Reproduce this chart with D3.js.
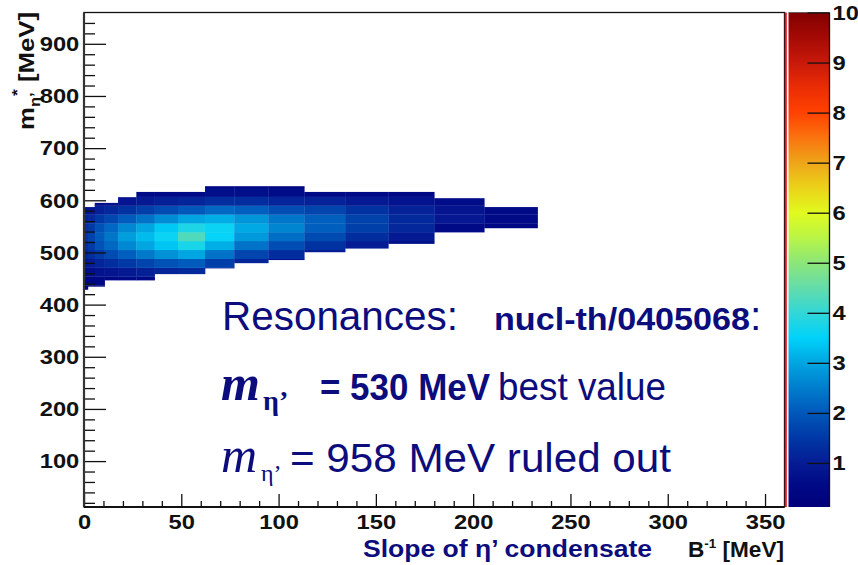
<!DOCTYPE html>
<html>
<head>
<meta charset="utf-8">
<script src="https://cdn.jsdelivr.net/npm/d3@7/dist/d3.min.js"></script>
<style>
  html, body { margin: 0; padding: 0; background: #ffffff; }
  svg { display: block; }
  .root-txt { font-family: "Liberation Sans", Arial, Helvetica, sans-serif; font-weight: bold; }
  .slide-txt { font-family: "Liberation Sans", Arial, Helvetica, sans-serif; fill: #0c0c7c; }
  .serif { font-family: "Liberation Serif", "Times New Roman", serif; }
</style>
</head>
<body>
<svg id="chart" width="858" height="565"></svg>
<script>
// ---- histogram binning ----------------------------------------------------
// slope bins along B^-1 (MeV), variable width
const xEdges = [0, 2, 5.5, 10.6, 17.5, 26.9, 36.3, 48.3, 62.2, 77.2, 94.7, 113.2, 134.2, 156.4, 180, 205.7, 233.1];
// mass rows along m_eta'* (MeV)
const yEdges = [420, 437, 454, 471, 488, 505, 522, 539, 556, 573, 590, 607, 624, 641];
// lowest / highest mass filled in each slope bin
const colLow  = [429, 435, 435, 447, 447, 447, 459, 459, 470, 480, 486, 501, 508, 517, 538, 547];
const colHigh = [587, 587, 595, 595, 606, 616, 616, 616, 627, 627, 627, 616, 616, 616, 604, 587];

// cell contents, one list per slope bin, lowest mass row first
const c00 = [0.3, 0.45, 0.65, 0.9, 1.15, 1.35, 1.45, 1.35, 1.1, 0.8, 0.55, 0.35, 0.25];
const c01 = [0.3, 0.45, 0.7, 1.0, 1.3, 1.55, 1.65, 1.5, 1.2, 0.85, 0.55, 0.35, 0.25];
const c02 = [0.3, 0.5, 0.8, 1.15, 1.55, 1.9, 2.05, 1.9, 1.5, 1.05, 0.65, 0.4, 0.25];
const c03 = [0.3, 0.5, 0.85, 1.3, 1.8, 2.2, 2.4, 2.2, 1.75, 1.2, 0.75, 0.45, 0.25];
const c04 = [0.3, 0.55, 0.95, 1.5, 2.1, 2.65, 2.9, 2.65, 2.05, 1.4, 0.85, 0.5, 0.3];
const c05 = [0.3, 0.6, 1.05, 1.7, 2.45, 3.0, 3.25, 3.0, 2.35, 1.6, 0.95, 0.55, 0.3];
const c06 = [0.35, 0.65, 1.15, 1.9, 2.75, 3.35, 3.6, 3.4, 2.7, 1.8, 1.05, 0.6, 0.35];
const c07 = [0.4, 0.7, 1.25, 2.05, 3.0, 3.75, 4.3, 3.8, 3.0, 2.0, 1.15, 0.6, 0.35];
const c08 = [0.35, 0.6, 1.0, 1.6, 2.35, 3.1, 3.55, 3.6, 3.1, 2.2, 1.3, 0.7, 0.4];
const c09 = [0.3, 0.45, 0.75, 1.15, 1.7, 2.35, 2.85, 3.05, 2.8, 2.1, 1.3, 0.7, 0.4];
const c10 = [0.25, 0.35, 0.55, 0.85, 1.3, 1.85, 2.3, 2.6, 2.4, 1.85, 1.15, 0.65, 0.35];
const c11 = [0.25, 0.3, 0.4, 0.6, 0.95, 1.4, 1.8, 2.1, 2.1, 1.7, 1.1, 0.6, 0.3];
const c12 = [0.2, 0.25, 0.3, 0.45, 0.7, 1.0, 1.3, 1.6, 1.65, 1.4, 0.95, 0.55, 0.3];
const c13 = [0.2, 0.2, 0.25, 0.35, 0.5, 0.7, 0.95, 1.2, 1.25, 1.1, 0.8, 0.5, 0.25];
const c14 = [0, 0, 0, 0, 0, 0, 0, 0.6, 0.9, 0.85, 0.65, 0.35, 0];
const c15 = [0, 0, 0, 0, 0, 0, 0, 0.45, 0.6, 0.55, 0.4, 0, 0];
const columns = [c00, c01, c02, c03, c04, c05, c06, c07, c08, c09, c10, c11, c12, c13, c14, c15];

// axis ticks
const xMajor = [0, 50, 100, 150, 200, 250, 300, 350];
const xMinor = [10, 20, 30, 40, 60, 70, 80, 90, 110, 120, 130, 140, 160, 170, 180, 190, 210, 220, 230, 240, 260, 270, 280, 290, 310, 320, 330, 340];
const yMajor = [100, 200, 300, 400, 500, 600, 700, 800, 900];
const yMinor = [20, 40, 60, 80, 120, 140, 160, 180, 220, 240, 260, 280, 320, 340, 360, 380, 420, 440, 460, 480, 520, 540, 560, 580, 620, 640, 660, 680, 720, 740, 760, 780, 820, 840, 860, 880, 920, 940];
const zTicks = [1, 2, 3, 4, 5, 6, 7, 8, 9, 10];

// palette stops (z value -> colour)
const paletteZ = [0.12, 0.6, 1, 1.5, 2, 2.5, 3, 3.5, 4, 4.5, 5, 5.5, 6, 6.5, 7, 7.5, 8, 8.5, 9, 9.5, 10];
const paletteC = ["#00007a", "#000a87", "#061c94", "#0038a6", "#0058ba", "#007dcd", "#00a5e1", "#00d2fa",
                  "#32d7d7", "#64dcaa", "#8ce678", "#b9f546", "#e1fa1e", "#ebd219", "#eea519", "#fa730f",
                  "#ff4100", "#eb2d05", "#c8190a", "#a50a05", "#820000"];

// ---- layout ----------------------------------------------------------------
const svg = d3.select("#chart");
const frame = { left: 84, right: 784.5, top: 12.5, bottom: 507 };
const bar = { left: 788.5, right: 829.5 };

const x = d3.scaleLinear().domain([0, 360]).range([frame.left, frame.right]);
const y = d3.scaleLinear().domain([12, 960]).range([frame.bottom, frame.top]);
const z = d3.scaleLinear().domain([0.12, 10]).range([frame.bottom, frame.top]);
const colour = d3.scaleLinear().domain(paletteZ).range(paletteC).interpolate(d3.interpolateRgb).clamp(true);

// ---- 2D histogram cells -----------------------------------------------------
const cells = [];
columns.forEach((vals, i) => {
  vals.forEach((v, j) => {
    const lo = Math.max(yEdges[j], colLow[i]);
    const hi = Math.min(yEdges[j + 1], colHigh[i]);
    if (v > 0 && hi > lo) cells.push({ x0: xEdges[i], x1: xEdges[i + 1], lo, hi, v });
  });
});

svg.append("g").attr("class", "cells")
  .selectAll("rect").data(cells).join("rect")
  .attr("x", d => x(d.x0))
  .attr("width", d => x(d.x1) - x(d.x0) + 0.3)
  .attr("y", d => y(d.hi))
  .attr("height", d => y(d.lo) - y(d.hi) + 0.3)
  .attr("fill", d => colour(d.v));

// ---- axes -------------------------------------------------------------------
const xAxisMinor = d3.axisBottom(x).tickValues(xMinor).tickSize(-6).tickSizeOuter(0).tickFormat("");
const xAxisMajor = d3.axisBottom(x).tickValues(xMajor).tickSize(-13).tickSizeOuter(0).tickPadding(7);
const yAxisMinor = d3.axisLeft(y).tickValues(yMinor).tickSize(-11).tickSizeOuter(0).tickFormat("");
const yAxisMajor = d3.axisLeft(y).tickValues(yMajor).tickSize(-22).tickSizeOuter(0).tickPadding(5);

function styleAxis(g) {
  g.selectAll("path.domain").remove();
  g.selectAll("line").attr("stroke", "#111").attr("stroke-width", 1.3);
  g.selectAll("text").attr("class", "root-txt").attr("fill", "#111")
    .style("font-size", "21px")
    .style("transform-box", "fill-box").style("transform-origin", "center")
    .style("transform", "scaleX(1.13)");
}
svg.append("g").attr("transform", `translate(0,${frame.bottom})`).call(xAxisMinor).call(styleAxis);
svg.append("g").attr("transform", `translate(0,${frame.bottom})`).call(xAxisMajor).call(styleAxis);
svg.append("g").attr("transform", `translate(${frame.left},0)`).call(yAxisMinor).call(styleAxis);
svg.append("g").attr("transform", `translate(${frame.left - 2},0)`).call(yAxisMajor).call(styleAxis)
  .selectAll("line").attr("transform", "translate(2,0)");

// frame
svg.append("rect")
  .attr("x", frame.left).attr("y", frame.top)
  .attr("width", frame.right - frame.left).attr("height", frame.bottom - frame.top)
  .attr("fill", "none").attr("stroke", "#111").attr("stroke-width", 1.3);
svg.append("line")
  .attr("x1", frame.left).attr("x2", frame.left).attr("y1", frame.top).attr("y2", frame.bottom)
  .attr("stroke", "#333").attr("stroke-width", 2.2);
svg.append("line")
  .attr("x1", frame.left).attr("x2", frame.right).attr("y1", frame.bottom).attr("y2", frame.bottom)
  .attr("stroke", "#111").attr("stroke-width", 1.8);
// red marker on the upper edge of the slope range
svg.append("line")
  .attr("x1", x(360) + 1.3).attr("x2", x(360) + 1.3).attr("y1", frame.top).attr("y2", frame.bottom)
  .attr("stroke", "#e8141e").attr("stroke-width", 2);

// ---- colour bar -------------------------------------------------------------
const defs = svg.append("defs");
const grad = defs.append("linearGradient").attr("id", "zgrad")
  .attr("x1", 0).attr("x2", 0).attr("y1", 1).attr("y2", 0);
const zSpan = z.domain()[1] - z.domain()[0];
paletteZ.forEach((v, k) => {
  grad.append("stop").attr("offset", (v - z.domain()[0]) / zSpan).attr("stop-color", paletteC[k]);
});
svg.append("rect")
  .attr("x", bar.left).attr("y", z(10))
  .attr("width", bar.right - bar.left).attr("height", z(0.12) - z(10))
  .attr("fill", "url(#zgrad)");
svg.append("line")
  .attr("x1", bar.right).attr("x2", bar.right).attr("y1", z(10)).attr("y2", z(0.12))
  .attr("stroke", "#111").attr("stroke-width", 1.3);
svg.append("line")
  .attr("x1", bar.left).attr("x2", bar.right).attr("y1", z(10)).attr("y2", z(10))
  .attr("stroke", "#555").attr("stroke-width", 0.8);

const zAxis = d3.axisRight(z).tickValues(zTicks).tickSize(-22).tickSizeOuter(0).tickPadding(3);
svg.append("g").attr("transform", `translate(${bar.right},0)`).call(zAxis).call(styleAxis)
  .selectAll("text").style("transform-origin", "left center");

// ---- axis titles ------------------------------------------------------------
svg.append("text").attr("class", "root-txt")
  .attr("x", 652).attr("y", 557).attr("text-anchor", "end")
  .attr("fill", "#0c0c7c").style("font-size", "23px")
  .attr("textLength", 289).attr("lengthAdjust", "spacingAndGlyphs")
  .text("Slope of \u03b7\u2019 condensate");

const bTitle = svg.append("text").attr("class", "root-txt")
  .attr("x", 688).attr("y", 557).attr("fill", "#111").style("font-size", "22px")
  .attr("textLength", 96).attr("lengthAdjust", "spacingAndGlyphs");
bTitle.append("tspan").text("B");
bTitle.append("tspan").attr("dy", -9).style("font-size", "13px").text("-1");
bTitle.append("tspan").attr("dy", 9).text(" [MeV]");

const yTitle = svg.append("text").attr("class", "root-txt")
  .attr("transform", "translate(34,12) rotate(-90)")
  .attr("text-anchor", "end").attr("fill", "#111").style("font-size", "22px")
  .attr("textLength", 118).attr("lengthAdjust", "spacingAndGlyphs");
yTitle.append("tspan").text("m");
yTitle.append("tspan").attr("dy", 6).style("font-size", "14px").text("\u03b7\u2019");
yTitle.append("tspan").attr("dy", -18).attr("dx", -3).style("font-size", "15px").text("*");
yTitle.append("tspan").attr("dy", 12).text(" [MeV]");

// ---- physics annotations ----------------------------------------------------
const note = svg.append("g").attr("class", "slide-txt");

const l1 = note.append("text").attr("y", 330);
l1.append("tspan").attr("x", 222).style("font-size", "41px")
  .attr("textLength", 236).attr("lengthAdjust", "spacingAndGlyphs").text("Resonances:");
l1.append("tspan").attr("x", 494).style("font-size", "31px").style("font-weight", "bold")
  .attr("textLength", 256).attr("lengthAdjust", "spacingAndGlyphs").text("nucl-th/0405068");
l1.append("tspan").attr("x", 750).style("font-size", "41px").text(":");

const l2 = note.append("text").attr("y", 400);
l2.append("tspan").attr("x", 221).attr("class", "serif")
  .style("font-size", "50px").style("font-style", "italic").style("font-weight", "bold").text("m");
l2.append("tspan").attr("class", "serif").attr("x", 263).attr("dy", 10)
  .style("font-size", "28px").style("font-weight", "bold").text("\u03b7\u2019");
l2.append("tspan").attr("x", 320).attr("dy", -10)
  .style("font-size", "37px").style("font-weight", "bold")
  .attr("textLength", 170).attr("lengthAdjust", "spacingAndGlyphs").text("= 530 MeV");
l2.append("tspan").attr("x", 498).style("font-size", "38px")
  .attr("textLength", 168).attr("lengthAdjust", "spacingAndGlyphs").text("best value");

const l3 = note.append("text").attr("y", 472);
l3.append("tspan").attr("x", 221).attr("class", "serif")
  .style("font-size", "50px").style("font-style", "italic").text("m");
l3.append("tspan").attr("class", "serif").attr("x", 261).attr("dy", 9)
  .style("font-size", "24px").text("\u03b7\u2019");
l3.append("tspan").attr("x", 290).attr("dy", -9)
  .style("font-size", "40px")
  .attr("textLength", 381).attr("lengthAdjust", "spacingAndGlyphs").text("= 958 MeV ruled out");
</script>
</body>
</html>
